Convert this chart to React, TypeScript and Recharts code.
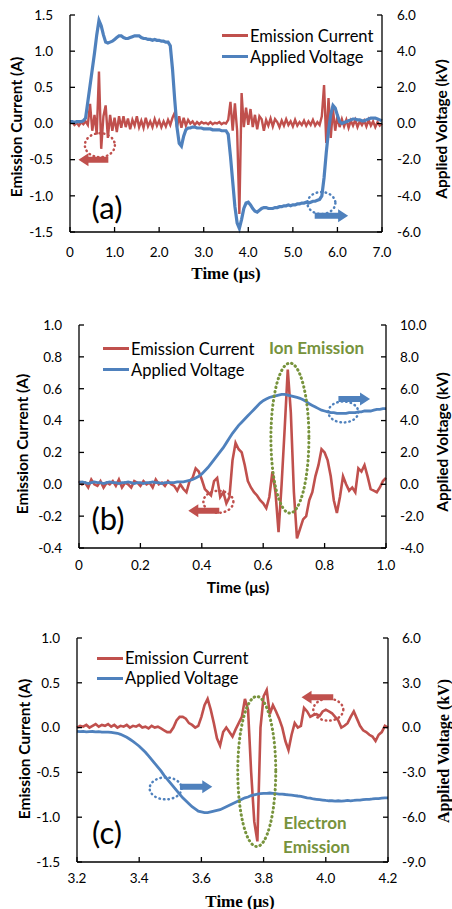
import React from 'react'
import { ComposedChart, Line, XAxis, YAxis, ReferenceDot, ReferenceLine } from 'recharts'

const RED = '#C0504D'
const BLUE = '#4F81BD'
const GREEN = '#77933C'
const SANS = 'Lato, "Noto Sans", sans-serif'
const SERIF = '"Liberation Serif", "DejaVu Serif", serif'

const seriesNames = ['Emission Current', 'Applied Voltage']

// ---- (a) 0 - 7 us, sampled every 0.05 us ----
const currentA = [
  0.0, 0.02, -0.02, 0.01, -0.03, 0.02, -0.01, 0.03, -0.02, 0.27,
  -0.1, 0.12, -0.15, 0.72, -0.35, 0.1, 0.25, -0.2, 0.12, -0.1,
  0.08, -0.12, 0.1, -0.06, 0.1, -0.05, 0.07, -0.08, 0.05, -0.03,
  0.1, -0.05, 0.04, -0.06, 0.08, -0.04, 0.03, -0.05, 0.06, -0.03,
  0.04, -0.05, 0.03, -0.04, 0.05, -0.02, 0.08, 0.15, -0.05, 0.1,
  -0.06, 0.08, -0.03, 0.05, 0.0, 0.03, -0.02, 0.02, -0.01, 0.02,
  0.0, 0.01, -0.01, 0.02, -0.01, 0.01, 0.0, 0.02, -0.01, 0.01,
  0.0, 0.05, 0.3, -0.1, 0.28, -0.1, -1.25, 0.42, -0.05, 0.22,
  -0.02, 0.2, -0.05, 0.12, -0.08, 0.1, 0.06, -0.1, 0.05, -0.03,
  0.07, -0.04, 0.06, 0.02, -0.05, 0.04, -0.03, 0.06, -0.02, 0.03,
  -0.04, 0.05, -0.03, 0.02, -0.02, 0.04, -0.03, 0.03, -0.02, 0.05,
  -0.03, 0.02, -0.02, 0.1, 0.53, -0.27, 0.35, -0.2, 0.2, -0.1,
  0.1, -0.05, 0.06, -0.04, 0.05, -0.06, 0.04, -0.03, 0.05, -0.05,
  0.03, -0.02, 0.04, -0.04, 0.05, -0.03, 0.03, -0.05, 0.02, -0.03,
  0.0,
]
const voltageA = [
  0.1, 0.1, 0.05, 0.1, 0.1, 0.1, 0.15, 0.3, 1.2, 2.1,
  3.0, 3.9, 4.9, 5.7, 5.4, 4.9, 4.5, 4.45, 4.5, 4.55,
  4.65, 4.75, 4.85, 4.85, 4.75, 4.7, 4.7, 4.75, 4.8, 4.85,
  4.85, 4.85, 4.75, 4.7, 4.7, 4.65, 4.65, 4.6, 4.65, 4.6,
  4.6, 4.55, 4.55, 4.5, 4.5, 4.3, 3.0, 1.3, -0.2, -1.1,
  -1.25, -0.7, -0.35, -0.25, -0.25, -0.2, -0.2, -0.25, -0.25, -0.25,
  -0.3, -0.3, -0.3, -0.3, -0.35, -0.35, -0.35, -0.35, -0.4, -0.4,
  -0.4, -0.6, -1.8, -3.2, -4.6, -5.5, -5.8, -5.3, -4.7, -4.4,
  -4.35, -4.5, -4.7, -4.85, -4.9, -4.8, -4.7, -4.65, -4.65, -4.7,
  -4.7, -4.7, -4.65, -4.65, -4.6, -4.6, -4.55, -4.55, -4.5, -4.55,
  -4.5, -4.5, -4.45, -4.45, -4.4, -4.4, -4.35, -4.4, -4.35, -4.3,
  -4.3, -4.25, -4.2, -4.0, -3.0, -1.6, -0.4, 0.5, 1.0, 0.85,
  0.45, 0.1, 0.0, 0.05, 0.1, 0.15, 0.2, 0.25, 0.25, 0.2,
  0.2, 0.15, 0.15, 0.2, 0.25, 0.3, 0.3, 0.3, 0.25, 0.2,
  0.15,
]
const xTicksA = [0, 1, 2, 3, 4, 5, 6, 7]
const xLabelsA = ['0', '1.0', '2.0', '3.0', '4.0', '5.0', '6.0', '7.0']
const iTicksA = [-1.5, -1, -0.5, 0, 0.5, 1, 1.5]
const vTicksA = [-6, -4, -2, 0, 2, 4, 6]

// ---- (b) 0 - 1 us, sampled every 0.01 us ----
const currentB = [
  0.02, 0.0, 0.01, -0.02, 0.03, 0.0, -0.01, 0.02, -0.02, 0.01,
  0.0, 0.02, -0.01, 0.03, -0.02, 0.01, 0.0, -0.02, 0.02, 0.01,
  -0.01, 0.02, 0.0, 0.01, -0.02, 0.03, 0.0, 0.01, -0.01, 0.02,
  0.0, -0.01, -0.04, 0.0, -0.03, -0.05, 0.02, 0.04, 0.1, 0.08,
  0.03, -0.03, -0.05, -0.07, 0.02, 0.04, -0.08, -0.05, -0.12, -0.08,
  0.15, 0.26, 0.22, 0.2, 0.12, 0.02, -0.02, -0.05, -0.07, -0.1,
  -0.12, -0.15, -0.08, 0.08, -0.05, -0.3, 0.0, 0.35, 0.72, 0.45,
  -0.05, -0.34, -0.28, -0.22, -0.2, -0.1, -0.05, 0.05, 0.12, 0.22,
  0.2, 0.15, 0.05, -0.1, -0.18, -0.08, 0.05, 0.0, -0.04, -0.02,
  -0.05, 0.1, 0.08, 0.12, 0.05, -0.03, -0.04, -0.05, -0.02, 0.02,
  0.04,
]
const voltageB = [
  0.1, 0.15, 0.1, 0.05, 0.1, 0.15, 0.1, 0.1, 0.05, 0.1,
  0.15, 0.1, 0.1, 0.05, 0.1, 0.1, 0.15, 0.1, 0.05, 0.1,
  0.1, 0.05, 0.1, 0.1, 0.15, 0.1, 0.1, 0.05, 0.1, 0.1,
  0.1, 0.1, 0.15, 0.15, 0.15, 0.2, 0.25, 0.3, 0.4, 0.5,
  0.65, 0.85, 1.05, 1.3, 1.55, 1.8, 2.05, 2.3, 2.6, 2.9,
  3.2, 3.45, 3.7, 3.9, 4.1, 4.3, 4.5, 4.7, 4.9, 5.1,
  5.25, 5.35, 5.45, 5.5, 5.55, 5.6, 5.65, 5.65, 5.6, 5.55,
  5.5, 5.45, 5.4, 5.3, 5.2, 5.05, 4.95, 4.85, 4.75, 4.65,
  4.6, 4.55, 4.5, 4.5, 4.45, 4.45, 4.45, 4.45, 4.5, 4.5,
  4.5, 4.55, 4.55, 4.6, 4.6, 4.6, 4.65, 4.7, 4.7, 4.75,
  4.75,
]
const xTicksB = [0, 0.2, 0.4, 0.6, 0.8, 1]
const xLabelsB = ['0', '0.2', '0.4', '0.6', '0.8', '1.0']
const iTicksB = [-0.4, -0.2, 0, 0.2, 0.4, 0.6, 0.8, 1]
const vTicksB = [-4, -2, 0, 2, 4, 6, 8, 10]

// ---- (c) 3.2 - 4.2 us, sampled every 0.01 us ----
const currentC = [
  0.0, 0.02, 0.01, 0.03, 0.0, 0.02, 0.04, 0.01, 0.03, 0.02,
  0.04, 0.01, 0.03, 0.0, 0.02, 0.01, 0.03, 0.0, 0.02, 0.01,
  0.03, 0.0, 0.01, -0.01, 0.02, 0.0, 0.01, -0.01, -0.03, -0.05,
  -0.05, 0.0, 0.08, 0.12, 0.12, 0.1, 0.05, 0.03, 0.0, 0.02,
  0.12, 0.25, 0.32, 0.2, 0.05, -0.12, -0.2, -0.05, 0.0, -0.05,
  -0.1, -0.02, 0.05, 0.12, 0.32, 0.2, -0.5, -1.05, -1.27, 0.0,
  0.35, 0.42, 0.15, 0.25, 0.18, 0.1, 0.0, -0.15, -0.25, -0.08,
  0.05, 0.0, 0.02, 0.22, 0.18, 0.12, 0.14, 0.15, 0.13, 0.18,
  0.2, 0.18, 0.16, 0.12, 0.08, 0.0, 0.02, 0.05, 0.12, 0.18,
  0.1, 0.02, -0.03, -0.05, -0.08, -0.1, -0.15, -0.08, -0.05, 0.02,
  0.0,
]
const voltageC = [
  -0.25, -0.27, -0.25, -0.28, -0.27, -0.26, -0.28, -0.27, -0.3, -0.3,
  -0.3, -0.32, -0.35, -0.38, -0.45, -0.55, -0.65, -0.78, -0.92, -1.08,
  -1.25, -1.45, -1.65, -1.9, -2.15, -2.4, -2.65, -2.9, -3.2, -3.45,
  -3.7, -3.95, -4.2, -4.45, -4.7, -4.9, -5.1, -5.3, -5.45, -5.6,
  -5.65, -5.7, -5.7, -5.65, -5.6, -5.55, -5.5, -5.4, -5.3, -5.2,
  -5.1, -5.0, -4.9, -4.8, -4.7, -4.65, -4.55, -4.5, -4.45, -4.42,
  -4.4, -4.4, -4.38, -4.4, -4.42, -4.45, -4.45, -4.48, -4.5, -4.52,
  -4.55, -4.58, -4.6, -4.65, -4.7, -4.72, -4.78, -4.8, -4.82, -4.85,
  -4.88, -4.9, -4.9, -4.92, -4.9, -4.92, -4.9, -4.88, -4.9, -4.88,
  -4.85, -4.85, -4.82, -4.8, -4.8, -4.78, -4.75, -4.75, -4.72, -4.7,
  -4.7,
]
const xTicksC = [3.2, 3.4, 3.6, 3.8, 4, 4.2]
const xLabelsC = ['3.2', '3.4', '3.6', '3.8', '4.0', '4.2']
const iTicksC = [-1.5, -1, -0.5, 0, 0.5, 1]
const vTicksC = [-9, -6, -3, 0, 3, 6]

type Row = { t: number; i: number; v: number }
const makeRows = (t0: number, dt: number, cur: number[], volt: number[]): Row[] =>
  cur.map((c, k) => ({ t: Math.round((t0 + k * dt) * 1000) / 1000, i: c, v: volt[k] }))

const rowsA = makeRows(0, 0.05, currentA, voltageA)
const rowsB = makeRows(0, 0.01, currentB, voltageB)
const rowsC = makeRows(3.2, 0.01, currentC, voltageC)

type Ell = { axis: 'i' | 'v'; x: number; y: number; rx: number; ry: number; color: string; w: number }
type Arw = { axis: 'i' | 'v'; x1: number; x2: number; y: number; color: string }

const ellipsesA: Ell[] = [
  { axis: 'i', x: 0.67, y: -0.3, rx: 15, ry: 12, color: RED, w: 2.5 },
  { axis: 'v', x: 5.64, y: -4.4, rx: 14, ry: 11, color: BLUE, w: 2.5 },
]
const arrowsA: Arw[] = [
  { axis: 'i', x1: 0.86, x2: 0.19, y: -0.5, color: RED },
  { axis: 'v', x1: 5.49, x2: 6.24, y: -5.1, color: BLUE },
]
const ellipsesB: Ell[] = [
  { axis: 'i', x: 0.454, y: -0.11, rx: 15, ry: 11, color: RED, w: 2.5 },
  { axis: 'v', x: 0.861, y: 4.54, rx: 15, ry: 10.5, color: BLUE, w: 2.5 },
  { axis: 'i', x: 0.687, y: 0.29, rx: 19, ry: 75, color: GREEN, w: 3 },
]
const arrowsB: Arw[] = [
  { axis: 'i', x1: 0.457, x2: 0.356, y: -0.166, color: RED },
  { axis: 'v', x1: 0.845, x2: 0.948, y: 5.35, color: BLUE },
]
const ellipsesC: Ell[] = [
  { axis: 'v', x: 3.485, y: -4.07, rx: 16, ry: 11, color: BLUE, w: 2.5 },
  { axis: 'i', x: 4.008, y: 0.2, rx: 15, ry: 11, color: RED, w: 2.5 },
  { axis: 'i', x: 3.778, y: -0.49, rx: 19, ry: 75, color: GREEN, w: 3 },
]
const arrowsC: Arw[] = [
  { axis: 'v', x1: 3.531, x2: 3.635, y: -3.96, color: BLUE },
  { axis: 'i', x1: 4.024, x2: 3.922, y: 0.338, color: RED },
]

const arrowShape = (color: string) => (p: any) => {
  const { x1, y1, x2, y2 } = p
  const dx = x2 - x1
  const dy = y2 - y1
  const len = Math.hypot(dx, dy) || 1
  const ux = dx / len, uy = dy / len
  const nx = -uy, ny = ux
  const hl = 10, sw = 3, hw = 6.5
  const bx = x2 - ux * hl, by = y2 - uy * hl
  const pts = [
    [x1 + nx * sw, y1 + ny * sw],
    [bx + nx * sw, by + ny * sw],
    [bx + nx * hw, by + ny * hw],
    [x2, y2],
    [bx - nx * hw, by - ny * hw],
    [bx - nx * sw, by - ny * sw],
    [x1 - nx * sw, y1 - ny * sw],
  ]
  return <polygon points={pts.map((q) => q.join(',')).join(' ')} fill={color} />
}

const ellipseShape = (e: Ell) => (p: any) => (
  <ellipse
    cx={p.cx}
    cy={p.cy}
    rx={e.rx}
    ry={e.ry}
    fill="none"
    stroke={e.color}
    strokeWidth={e.w}
    strokeDasharray="0.5 4"
    strokeLinecap="round"
  />
)

const fmt1 = (v: number) => v.toFixed(1)

type PanelProps = {
  top: number
  height: number
  marginTop: number
  xHeight: number
  iWidth: number
  vWidth: number
  rows: Row[]
  xTicks: number[]
  xLabels: string[]
  iTicks: number[]
  vTicks: number[]
  tickMargins: [number, number, number]
  ellipses: Ell[]
  arrows: Arw[]
  iStroke: number
  vStroke: number
}

function Panel(props: PanelProps) {
  const { top, height, marginTop, xHeight, iWidth, vWidth, rows, xTicks, xLabels, iTicks, vTicks, tickMargins, ellipses, arrows } = props
  const xDomain = [xTicks[0], xTicks[xTicks.length - 1]]
  const tickStyle = { fontSize: 13.5, fill: '#000', fontFamily: SANS }
  const axisLine = { stroke: '#000', strokeWidth: 1.3 }
  const tickLine = { stroke: '#000', strokeWidth: 1.3 }
  return (
    <div style={{ position: 'absolute', left: 0, top, width: 452, height }}>
      <ComposedChart width={452} height={height} data={rows} margin={{ top: marginTop, right: 0, bottom: 0, left: 0 }}>
        <XAxis
          dataKey="t"
          type="number"
          domain={xDomain}
          ticks={xTicks}
          tickFormatter={(v: number) => xLabels[xTicks.indexOf(v)]}
          height={xHeight}
          tickSize={-5}
          tickMargin={tickMargins[2]}
          tick={tickStyle}
          axisLine={axisLine}
          tickLine={tickLine}
          interval={0}
        />
        <XAxis
          xAxisId="top"
          orientation="top"
          dataKey="t"
          type="number"
          domain={xDomain}
          ticks={xTicks}
          height={0}
          tickSize={-5}
          tick={false}
          axisLine={axisLine}
          tickLine={tickLine}
          interval={0}
        />
        <YAxis
          yAxisId="i"
          type="number"
          domain={[iTicks[0], iTicks[iTicks.length - 1]]}
          ticks={iTicks}
          tickFormatter={fmt1}
          width={iWidth}
          tickSize={-5}
          tickMargin={tickMargins[0]}
          tick={tickStyle}
          axisLine={axisLine}
          tickLine={tickLine}
          interval={0}
        />
        <YAxis
          yAxisId="v"
          orientation="right"
          type="number"
          domain={[vTicks[0], vTicks[vTicks.length - 1]]}
          ticks={vTicks}
          tickFormatter={fmt1}
          width={vWidth}
          tickSize={-5}
          tickMargin={tickMargins[1]}
          tick={tickStyle}
          axisLine={axisLine}
          tickLine={tickLine}
          interval={0}
        />
        <Line
          yAxisId="i"
          dataKey="i"
          name={seriesNames[0]}
          type="linear"
          stroke={RED}
          strokeWidth={props.iStroke}
          dot={false}
          isAnimationActive={false}
        />
        <Line
          yAxisId="v"
          dataKey="v"
          name={seriesNames[1]}
          type="linear"
          stroke={BLUE}
          strokeWidth={props.vStroke}
          dot={false}
          isAnimationActive={false}
        />
        {ellipses.map((e, k) => (
          <ReferenceDot key={'e' + k} yAxisId={e.axis} x={e.x} y={e.y} shape={ellipseShape(e)} />
        ))}
        {arrows.map((a, k) => (
          <ReferenceLine
            key={'a' + k}
            yAxisId={a.axis}
            segment={[{ x: a.x1, y: a.y }, { x: a.x2, y: a.y }]}
            shape={arrowShape(a.color)}
          />
        ))}
      </ComposedChart>
    </div>
  )
}

function Text({ x, y, rot = 0, style, children }: { x: number; y: number; rot?: number; style?: React.CSSProperties; children: React.ReactNode }) {
  return (
    <div
      style={{
        position: 'absolute',
        left: x,
        top: y,
        transform: `translate(-50%, -50%) rotate(${rot}deg)`,
        whiteSpace: 'nowrap',
        lineHeight: 1,
        ...style,
      }}
    >
      {children}
    </div>
  )
}

function Legend({ x, y, gap }: { x: number; y: number; gap: number }) {
  const colors = [RED, BLUE]
  return (
    <div style={{ position: 'absolute', left: x, top: y }}>
      {seriesNames.map((n, k) => (
        <div key={n} style={{ display: 'flex', alignItems: 'center', height: gap }}>
          <div style={{ width: 26, height: 3, background: colors[k], marginRight: 2 }} />
          <span style={{ fontFamily: SANS, fontSize: 16.5, color: '#000' }}>{n}</span>
        </div>
      ))}
    </div>
  )
}

const sansBold: React.CSSProperties = { fontFamily: SANS, fontWeight: 700, fontSize: 15.5, color: '#000' }
const serifBold: React.CSSProperties = { fontFamily: SERIF, fontWeight: 700, fontSize: 17, color: '#000' }
const panelTag: React.CSSProperties = { fontFamily: SANS, fontSize: 31, color: '#000' }
const greenTag: React.CSSProperties = { fontFamily: SANS, fontWeight: 700, fontSize: 17, color: GREEN }

export default function App() {
  return (
    <div style={{ position: 'absolute', left: 0, top: 0, width: 452, height: 909, background: '#fff' }}>
      <Panel
        top={0} height={300} marginTop={15} xHeight={68} iWidth={70} vWidth={70}
        rows={rowsA} xTicks={xTicksA} xLabels={xLabelsA} iTicks={iTicksA} vTicks={vTicksA}
        tickMargins={[22, 20, 20]} ellipses={ellipsesA} arrows={arrowsA} iStroke={2.4} vStroke={3.2}
      />
      <Panel
        top={300} height={310} marginTop={25} xHeight={62} iWidth={79} vWidth={66}
        rows={rowsB} xTicks={xTicksB} xLabels={xLabelsB} iTicks={iTicksB} vTicks={vTicksB}
        tickMargins={[22, 19, 17]} ellipses={ellipsesB} arrows={arrowsB} iStroke={2.6} vStroke={2.8}
      />
      <Panel
        top={610} height={299} marginTop={28} xHeight={47} iWidth={77} vWidth={64}
        rows={rowsC} xTicks={xTicksC} xLabels={xLabelsC} iTicks={iTicksC} vTicks={vTicksC}
        tickMargins={[22, 19, 16]} ellipses={ellipsesC} arrows={arrowsC} iStroke={2.6} vStroke={2.8}
      />

      {/* panel (a) texts */}
      <Text x={16.7} y={126.7} rot={-90} style={sansBold}>Emission Current (A)</Text>
      <Text x={441.7} y={129} rot={-90} style={sansBold}>Applied Voltage (kV)</Text>
      <Text x={226} y={272.7} style={serifBold}>Time (μs)</Text>
      <Legend x={222} y={25} gap={21} />
      <Text x={107} y={207} style={panelTag}>(a)</Text>

      {/* panel (b) texts */}
      <Text x={22.5} y={444} rot={-90} style={sansBold}>Emission Current (A)</Text>
      <Text x={443} y={441.7} rot={-90} style={sansBold}>Applied Voltage (kV)</Text>
      <Text x={238} y={588} style={sansBold}>Time (μs)</Text>
      <Legend x={103} y={338} gap={21} />
      <Text x={108} y={518} style={panelTag}>(b)</Text>
      <Text x={316.5} y={346.7} style={greenTag}>Ion Emission</Text>

      {/* panel (c) texts */}
      <Text x={25} y={749} rot={-90} style={sansBold}>Emission Current (A)</Text>
      <Text x={444} y={751} rot={-90} style={{ ...serifBold, fontSize: 16 }}>Applied Voltage (kV)</Text>
      <Text x={240} y={900.7} style={serifBold}>Time (μs)</Text>
      <Legend x={97} y={648} gap={20} />
      <Text x={107} y={832} style={panelTag}>(c)</Text>
      <Text x={315} y={822.3} style={greenTag}>Electron</Text>
      <Text x={316.5} y={845.7} style={greenTag}>Emission</Text>
    </div>
  )
}
